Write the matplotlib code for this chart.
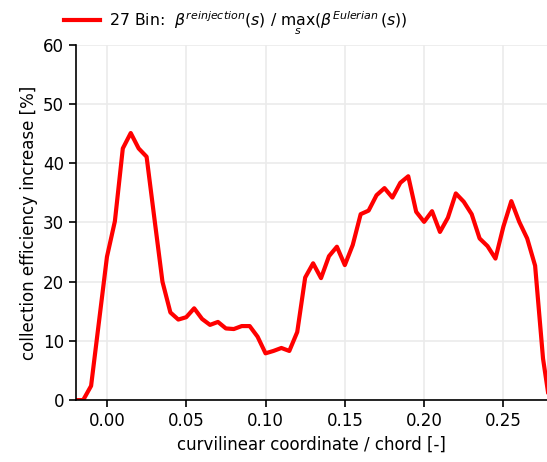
import numpy as np
import matplotlib
matplotlib.use("Agg")
import matplotlib.pyplot as plt

# curvilinear coordinate bins (step 0.005)
s = np.round(np.arange(-0.02, 0.2801, 0.005), 3)

# collection efficiency increase [%]
increase = [0.0, 0.0, 2.4, 13.3, 24.2, 30.2, 42.5, 45.1, 42.5, 41.1,
            30.5, 20.0, 14.8, 13.6, 14.0, 15.5, 13.7, 12.7, 13.2, 12.1,
            12.0, 12.5, 12.5, 10.7, 7.9, 8.3, 8.8, 8.3, 11.5, 20.7,
            23.1, 20.6, 24.3, 25.9, 22.8, 26.2, 31.4, 32.0, 34.6, 35.8,
            34.2, 36.7, 37.8, 31.8, 30.1, 31.9, 28.4, 30.8, 34.9, 33.5,
            31.4, 27.3, 26.0, 23.9, 29.3, 33.6, 30.1, 27.3, 22.7, 7.0,
            -2.0]

label = (r"27 Bin:  $\beta^{reinjection}(s)$ / "
         r"$\max_s(\beta^{Eulerian}(s))$")

plt.rcParams['font.size'] = 12

fig = plt.figure(figsize=(5.47, 4.62), dpi=100)
ax = fig.add_axes([0.139, 0.134, 0.861, 0.769])

ax.plot(s, increase, color='red', lw=3.0, label=label)

ax.set_xlim(-0.0195, 0.2775)
ax.set_ylim(0, 60)
ax.set_xticks([0.0, 0.05, 0.10, 0.15, 0.20, 0.25])
ax.set_xticklabels(['0.00', '0.05', '0.10', '0.15', '0.20', '0.25'])
ax.set_yticks(range(0, 61, 10))

ax.grid(True, color='#ebebeb', lw=1.2)
ax.set_axisbelow(True)
for side in ['top', 'right']:
    ax.spines[side].set_visible(False)
ax.tick_params(direction='out', length=5, width=1.2)
ax.spines['left'].set_linewidth(1.2)
ax.spines['bottom'].set_linewidth(1.2)

ax.set_xlabel('curvilinear coordinate / chord [-]')
ax.set_ylabel('collection efficiency increase [%]')

ax.legend(loc='lower left', bbox_to_anchor=(-0.039, 1.004), frameon=False,
          handlelength=2.3, handletextpad=0.6, borderaxespad=0,
          fontsize=11.3)

fig.savefig('out.png', dpi=100)
